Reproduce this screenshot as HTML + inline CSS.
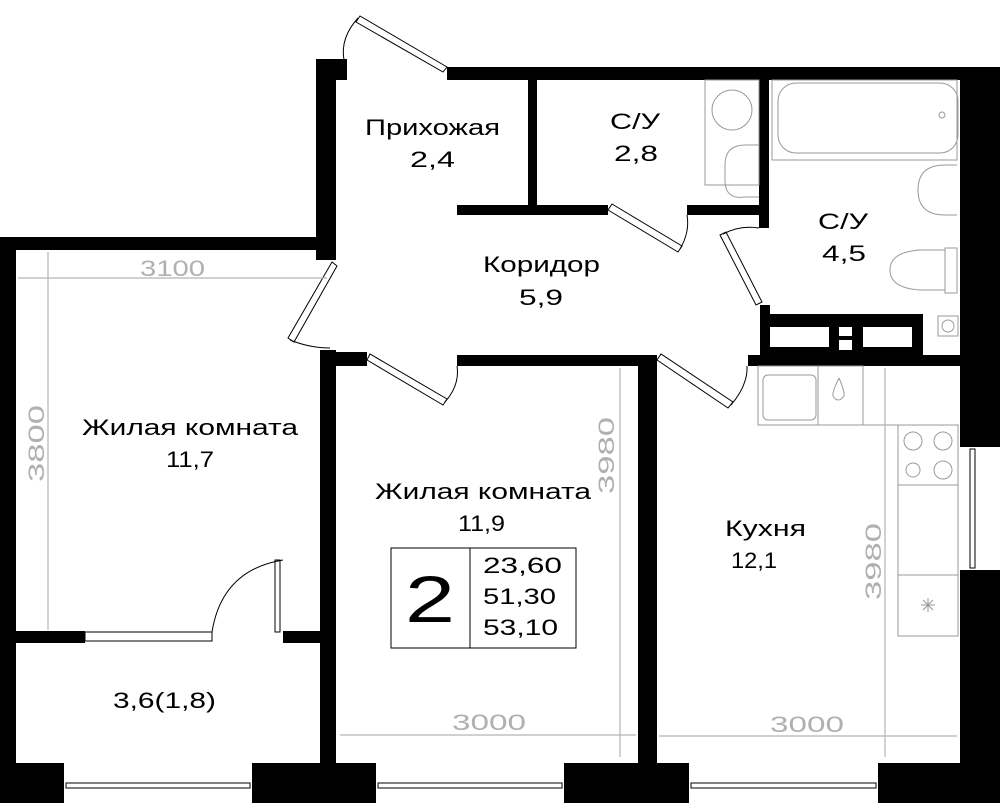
<!DOCTYPE html>
<html><head><meta charset="utf-8"><style>
html,body{margin:0;padding:0;background:#fff;}
svg{display:block;}
text{font-family:"Liberation Sans",sans-serif;}
</style></head><body>
<svg width="1000" height="803" viewBox="0 0 1000 803" xmlns="http://www.w3.org/2000/svg">
<g fill="#000">
<rect x="316" y="59" width="31" height="21"/>
<rect x="447" y="67" width="531" height="13"/>
<rect x="960" y="67" width="40" height="380"/>
<rect x="960" y="570" width="40" height="233"/>
<rect x="316" y="80" width="20" height="180"/>
<rect x="0" y="237" width="336" height="13"/>
<rect x="0" y="237" width="16" height="566"/>
<rect x="320" y="350" width="16" height="453"/>
<rect x="320" y="352" width="47" height="14"/>
<rect x="528" y="80" width="9" height="130"/>
<rect x="457" y="205" width="151" height="10"/>
<rect x="687" y="205" width="80" height="10"/>
<rect x="759" y="80" width="10" height="148"/>
<rect x="760" y="305" width="10" height="12"/>
<rect x="760" y="314" width="163" height="42"/>
<rect x="748" y="355" width="212" height="11"/>
<rect x="457" y="355" width="200" height="11"/>
<rect x="638" y="355" width="19" height="448"/>
<rect x="16" y="631" width="69" height="12"/>
<rect x="283" y="631" width="37" height="12"/>
<rect x="0" y="763" width="1000" height="40"/>
</g>
<g fill="#fff">
<rect x="770" y="327" width="59" height="20"/>
<rect x="839" y="327" width="13" height="9"/>
<rect x="839" y="340" width="13" height="10"/>
<rect x="863" y="327" width="49" height="20"/>
<rect x="64" y="763" width="188" height="40"/>
<rect x="376" y="763" width="188" height="40"/>
<rect x="689" y="763" width="189" height="40"/>
<rect x="958" y="447" width="40" height="123"/>
</g>
<g stroke="#000" stroke-width="1" fill="none">
<rect x="66" y="783" width="184" height="5"/>
<rect x="378" y="783" width="184" height="5"/>
<rect x="691" y="783" width="185" height="5"/>
<rect x="970" y="449" width="5" height="119"/>
<line x1="958" y1="447" x2="958" y2="570"/>
<rect x="85" y="632" width="127" height="9"/>
<path d="M447 67 L360 16 L356 22 L443 72 Z"/>
<path d="M358 18 Q340 38 344 60"/>
<path d="M332 262 L288 338 L294 342 L337 266 Z"/>
<path d="M290 340 Q310 348 330 348"/>
<path d="M367 360 L443 405 L447 399 L370 354 Z"/>
<path d="M445 402 Q460 385 457 366"/>
<path d="M608 210 L678 252 L682 246 L612 204 Z"/>
<path d="M680 249 Q690 232 687 215"/>
<path d="M720 235 L756 305 L762 302 L726 232 Z"/>
<path d="M723 234 Q740 225 759 228"/>
<path d="M657 360 L728 408 L733 402 L661 354 Z"/>
<path d="M731 405 Q748 385 747 366"/>
<path d="M212 632 Q222 570 283 560"/>
<rect x="275" y="560" width="5" height="72"/>
</g>
<g stroke="#999" stroke-width="1" fill="none">
<rect x="705" y="80" width="54" height="105"/>
<circle cx="732" cy="110" r="20"/>
<path d="M759 197 L745 197 Q725 200 725 180 L725 165 Q725 145 745 145 L759 145"/>
<rect x="778" y="83" width="180" height="70" rx="18"/>
<rect x="772" y="80" width="185" height="80"/>
<circle cx="942" cy="115" r="3"/>
<path d="M957 165 L945 165 Q918 165 918 190 Q918 215 945 215 L957 215"/>
<path d="M945 250 L920 250 Q890 252 890 270 Q890 288 920 290 L945 290"/>
<rect x="945" y="248" width="12" height="45"/>
<rect x="938" y="316" width="20" height="20"/>
<circle cx="948" cy="326" r="6"/>
<rect x="758" y="366" width="105" height="59"/>
<rect x="763" y="375" width="53" height="45" rx="5"/>
<line x1="818" y1="366" x2="818" y2="425"/>
<path d="M839 378 Q832 392 833 396 Q838 404 844 396 Q845 392 839 378"/>
<rect x="898" y="425" width="60" height="211"/>
<line x1="898" y1="485" x2="958" y2="485"/>
<line x1="898" y1="575" x2="958" y2="575"/>
<line x1="863" y1="366" x2="863" y2="425"/>
<line x1="863" y1="425" x2="898" y2="425"/>
<circle cx="913" cy="441" r="9"/><circle cx="943" cy="441" r="9"/>
<circle cx="913" cy="470" r="7"/><circle cx="943" cy="470" r="9"/>
<path d="M928 598 L928 612 M921 605 L935 605 M923 600 L933 610 M933 600 L923 610"/>
</g>
<g stroke="#b5b5b5" stroke-width="1.2" fill="none">
<line x1="18" y1="278" x2="327" y2="278"/>
<line x1="48" y1="252" x2="48" y2="630"/>
<line x1="620" y1="368" x2="620" y2="757"/>
<line x1="340" y1="735" x2="636" y2="735"/>
<line x1="659" y1="736" x2="957" y2="736"/>
<line x1="885" y1="368" x2="885" y2="757"/>
</g>
<g fill="#b0b0b0" font-size="22" lengthAdjust="spacingAndGlyphs">
<text x="140" y="276" textLength="65" lengthAdjust="spacingAndGlyphs">3100</text>
<text transform="translate(44,482) rotate(-90)" textLength="77" lengthAdjust="spacingAndGlyphs">3800</text>
<text transform="translate(614,494) rotate(-90)" textLength="77" lengthAdjust="spacingAndGlyphs">3980</text>
<text x="452" y="730" textLength="74" lengthAdjust="spacingAndGlyphs">3000</text>
<text x="770" y="732" textLength="74" lengthAdjust="spacingAndGlyphs">3000</text>
<text transform="translate(881,600) rotate(-90)" textLength="77" lengthAdjust="spacingAndGlyphs">3980</text>
</g>
<g fill="#000" font-size="22">
<text x="365" y="135" textLength="135" lengthAdjust="spacingAndGlyphs">Прихожая</text>
<text x="410" y="167" textLength="45" lengthAdjust="spacingAndGlyphs">2,4</text>
<text x="610" y="129" textLength="50" lengthAdjust="spacingAndGlyphs">С/У</text>
<text x="614" y="161" textLength="44" lengthAdjust="spacingAndGlyphs">2,8</text>
<text x="818" y="229" textLength="50" lengthAdjust="spacingAndGlyphs">С/У</text>
<text x="822" y="261" textLength="44" lengthAdjust="spacingAndGlyphs">4,5</text>
<text x="483" y="272" textLength="117" lengthAdjust="spacingAndGlyphs">Коридор</text>
<text x="519" y="305" textLength="44" lengthAdjust="spacingAndGlyphs">5,9</text>
<text x="82" y="435" textLength="216" lengthAdjust="spacingAndGlyphs">Жилая комната</text>
<text x="166" y="467" textLength="48" lengthAdjust="spacingAndGlyphs">11,7</text>
<text x="375" y="499" textLength="216" lengthAdjust="spacingAndGlyphs">Жилая комната</text>
<text x="458" y="531" textLength="47" lengthAdjust="spacingAndGlyphs">11,9</text>
<text x="725" y="536" textLength="81" lengthAdjust="spacingAndGlyphs">Кухня</text>
<text x="731" y="568" textLength="46" lengthAdjust="spacingAndGlyphs">12,1</text>
<text x="113" y="708" textLength="103" lengthAdjust="spacingAndGlyphs">3,6(1,8)</text>
</g>
<g stroke="#000" stroke-width="1" fill="none">
<rect x="391" y="548" width="185" height="100"/>
<line x1="470" y1="548" x2="470" y2="648"/>
</g>
<text x="405" y="622" font-size="66" textLength="50" lengthAdjust="spacingAndGlyphs" fill="#000">2</text>
<g fill="#000" font-size="22">
<text x="483" y="573" textLength="79" lengthAdjust="spacingAndGlyphs">23,60</text>
<text x="483" y="604" textLength="73" lengthAdjust="spacingAndGlyphs">51,30</text>
<text x="483" y="635" textLength="75" lengthAdjust="spacingAndGlyphs">53,10</text>
</g>
</svg>
</body></html>
